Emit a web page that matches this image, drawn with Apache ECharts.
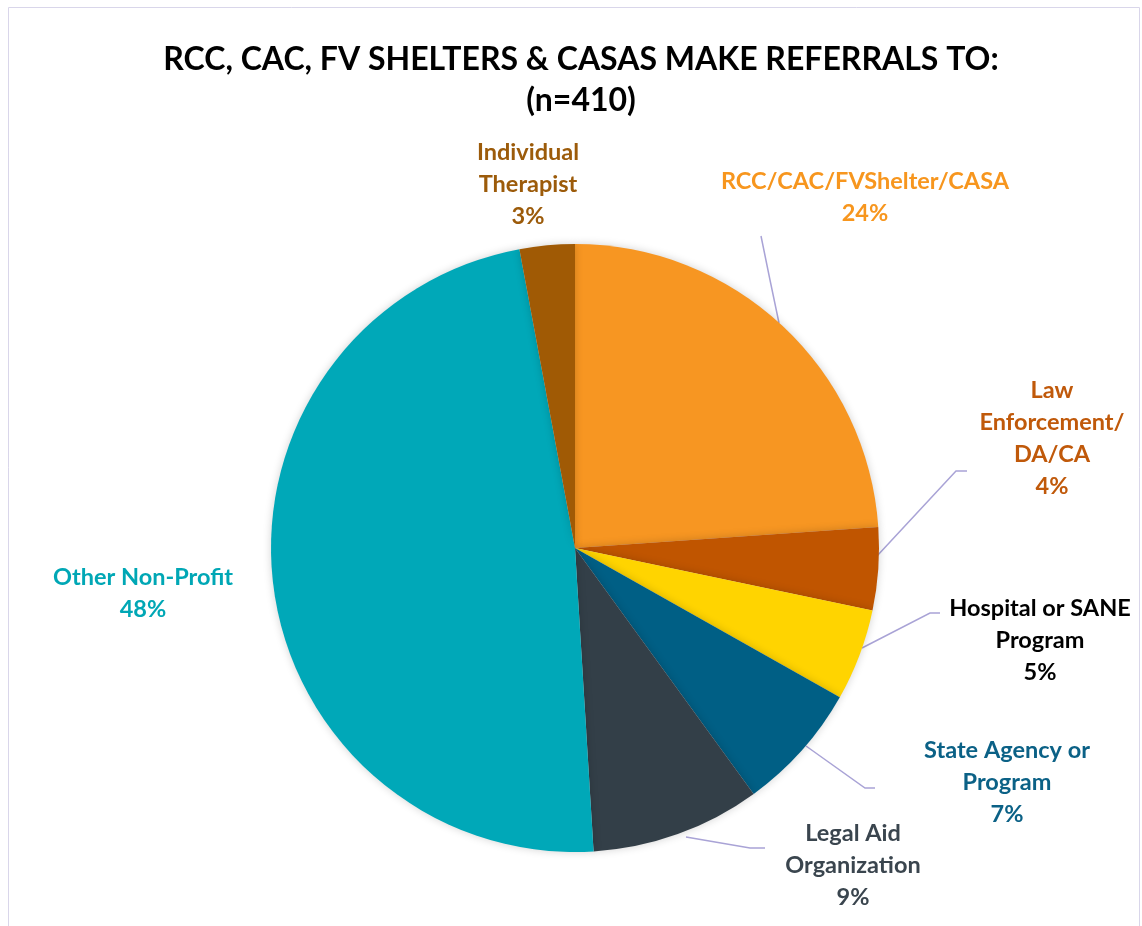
<!DOCTYPE html>
<html>
<head>
<meta charset="utf-8">
<title>Referrals pie</title>
<script src="https://cdn.jsdelivr.net/npm/echarts@6/dist/echarts.min.js"></script>
<style>
  html, body { margin: 0; padding: 0; background: #fff; }
  #chart { width: 1142px; height: 926px; }
</style>
</head>
<body>
<div id="chart"></div>
<script>
// data (n = 410)
var categories = ['RCC/CAC/FVShelter/CASA', 'Law\nEnforcement/\nDA/CA', 'Hospital or SANE\nProgram',
    'State Agency or\nProgram', 'Legal Aid\nOrganization', 'Other Non-Profit', 'Individual\nTherapist'];
var counts = [98, 18, 20, 28, 37, 197, 12];
var sliceColors = ['#F79622', '#C05500', '#FFD400', '#005F85', '#333F48', '#00A8B8', '#A05A05'];
var labelColors = ['#F7961E', '#C0590A', '#000000', '#0B6186', '#3A454E', '#00A7B5', '#9C5B0A'];

// where each label sits, and its leader line
var labelSpots = [
    { x: 865, y: 197, line: [[779, 323], [770, 280], [761, 236]] },
    { x: 1052, y: 438, line: [[877, 556], [956, 471], [967, 471]] },
    { x: 1040, y: 640, line: [[862, 648], [930, 613], [940, 613]] },
    { x: 1007, y: 782, line: [[806, 746], [865, 788], [875, 788]] },
    { x: 853, y: 865, line: [[686, 837], [750, 848], [765, 848]] },
    { x: 143, y: 593 },
    { x: 528, y: 184 }
];

var chart = echarts.init(document.getElementById('chart'));

var pieData = categories.map(function (name, i) {
    return {
        name: name,
        value: counts[i],
        itemStyle: { color: sliceColors[i] },
        label: { color: labelColors[i] },
        labelLine: { show: !!labelSpots[i].line }
    };
});

var option = {
    backgroundColor: '#fff',
    animation: false,
    title: {
        text: 'RCC, CAC, FV SHELTERS & CASAS MAKE REFERRALS TO:\n(n=410)',
        left: 576,
        top: 34,
        textAlign: 'center',
        textStyle: {
            fontFamily: 'Lato',
            fontWeight: 'bold',
            fontSize: 32,
            lineHeight: 41,
            color: '#000'
        }
    },
    graphic: [{
        type: 'rect',
        shape: { x: 8.5, y: 7.5, width: 1131, height: 960 },
        style: { fill: null, stroke: '#D9D6EA', lineWidth: 1 },
        silent: true
    }],
    series: [{
        type: 'pie',
        center: [575, 548],
        radius: 304,
        startAngle: 90,
        clockwise: true,
        percentPrecision: 0,
        data: pieData,
        itemStyle: {
            borderWidth: 0,
            shadowBlur: 8,
            shadowColor: 'rgba(0,0,0,0.18)'
        },
        label: {
            show: true,
            formatter: '{b}\n{d}%',
            fontFamily: 'Lato',
            fontWeight: 'bold',
            fontSize: 23.5,
            lineHeight: 32,
            align: 'center'
        },
        labelLine: {
            lineStyle: { color: '#A9A3D6', width: 1.5 }
        },
        labelLayout: function (params) {
            var spot = labelSpots[params.dataIndex];
            var res = {
                x: spot.x,
                y: spot.y,
                align: 'center',
                verticalAlign: 'middle'
            };
            if (spot.line) res.labelLinePoints = spot.line;
            return res;
        },
        emphasis: { disabled: true }
    }]
};

chart.setOption(option);
</script>
</body>
</html>
